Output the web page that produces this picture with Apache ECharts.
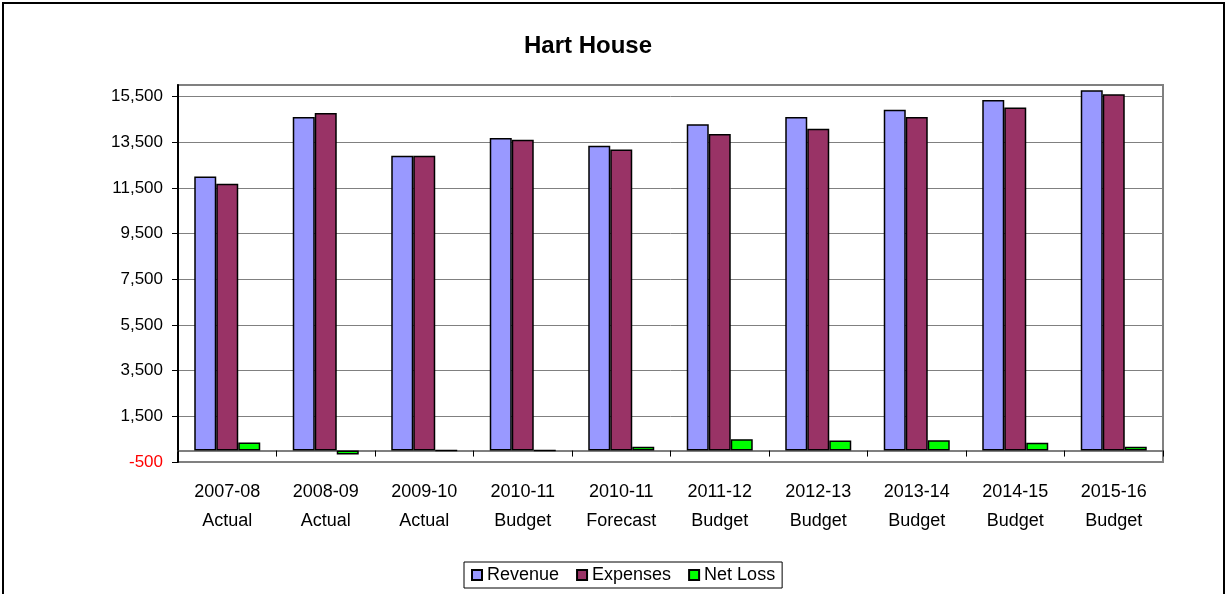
<!DOCTYPE html>
<html>
<head>
<meta charset="utf-8">
<script src="https://cdn.jsdelivr.net/npm/echarts@6/dist/echarts.min.js"></script>
<style>
  html, body { margin: 0; padding: 0; background: #fff; }
  #main { position: absolute; left: 0; top: 0; width: 1228px; height: 594px; }
  #frame { position: absolute; left: 2px; top: 2px; width: 1219px; height: 620px;
           border: 2px solid #000; pointer-events: none; }
</style>
</head>
<body>
<div id="main"></div>
<div id="frame"></div>
<script>
// data
var categories = ['2007-08\nActual', '2008-09\nActual', '2009-10\nActual', '2010-11\nBudget',
  '2010-11\nForecast', '2011-12\nBudget', '2012-13\nBudget', '2013-14\nBudget',
  '2014-15\nBudget', '2015-16\nBudget'];
var revenue = [12000, 14600, 12900, 13680, 13340, 14280, 14600, 14920, 15340, 15770];
var expenses = [11680, 14770, 12900, 13600, 13180, 13850, 14090, 14600, 15010, 15590];
var netLoss = [350, -170, 0, 0, 165, 500, 440, 450, 340, 170];
var yTicks = [-500, 1500, 3500, 5500, 7500, 9500, 11500, 13500, 15500];

var myChart = echarts.init(document.getElementById('main'));

var barBorder = { borderColor: '#000', borderWidth: 1.5 };

var option = {
  animation: false,
  textStyle: { fontFamily: 'Liberation Sans, Arial, sans-serif' },
  title: {
    text: 'Hart House',
    left: 519,
    top: 29,
    textStyle: { fontSize: 24, fontWeight: 'bold', color: '#000' }
  },
  legend: {
    left: 464,
    top: 562,
    padding: [4, 7],
    borderColor: '#000',
    borderWidth: 1,
    itemWidth: 10,
    itemHeight: 10,
    itemGap: 17,
    icon: 'rect',
    textStyle: { fontSize: 18, color: '#000' },
    data: ['Revenue', 'Expenses', 'Net Loss']
  },
  grid: {
    left: 178,
    right: 65,
    top: 85,
    bottom: 132,
    show: true,
    borderColor: '#808080',
    borderWidth: 2
  },
  xAxis: {
    type: 'category',
    data: categories,
    axisLine: { onZero: true, lineStyle: { color: '#555', width: 1.5 } },
    axisTick: { show: true, length: 6, lineStyle: { color: '#000' } },
    axisLabel: { fontSize: 18, lineHeight: 29, margin: 16, color: '#000' }
  },
  yAxis: {
    type: 'value',
    min: -500,
    max: 16000,
    axisLine: { show: true, lineStyle: { color: '#000', width: 2 } },
    axisTick: { show: true, length: 6, customValues: yTicks, lineStyle: { color: '#000' } },
    axisLabel: {
      fontSize: 17,
      margin: 15,
      customValues: yTicks,
      formatter: function (v) { return Number(v).toLocaleString('en-US'); },
      color: function (v) { return Number(v) < 0 ? '#FF0000' : '#000'; }
    },
    splitLine: { show: true, lineStyle: { color: '#808080', width: 1 } }
  },
  series: [
    {
      name: 'Revenue', type: 'bar', data: revenue,
      barGap: '0%', barCategoryGap: '33%',
      itemStyle: Object.assign({ color: '#9999FF' }, barBorder)
    },
    {
      name: 'Expenses', type: 'bar', data: expenses,
      itemStyle: Object.assign({ color: '#993366' }, barBorder)
    },
    {
      name: 'Net Loss', type: 'bar', data: netLoss,
      itemStyle: Object.assign({ color: '#00FF00' }, barBorder)
    }
  ]
};

myChart.setOption(option);
</script>
</body>
</html>
